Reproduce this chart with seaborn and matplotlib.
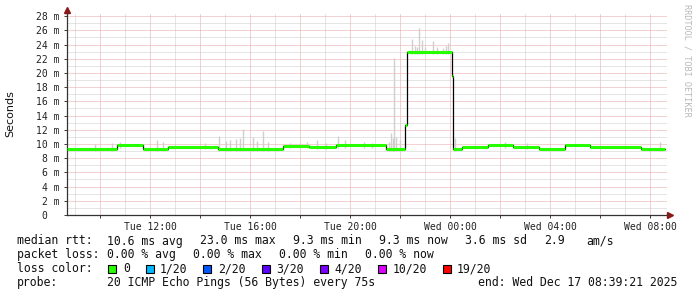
import numpy as np
import pandas as pd
import matplotlib
matplotlib.use("Agg")
import matplotlib.pyplot as plt
import seaborn as sns
from matplotlib.patches import Rectangle
from matplotlib.ticker import FixedLocator, MultipleLocator

# ---------------- data (hours since Tue 00:00, values in ms) ----------------
t_start = 8 + 39 / 60 + 21 / 3600       # Tue 08:39:21
t_end = t_start + 24                     # Wed 08:39:21

seg_start = [8.66, 10.66, 11.70, 12.70, 14.70, 17.30, 18.34, 19.42, 21.42, 22.20,
             22.26, 24.07, 24.12, 24.48, 25.52, 26.50, 27.54, 28.58, 29.58, 31.62]
seg_value = [9.3, 9.8, 9.3, 9.6, 9.3, 9.75, 9.6, 9.8, 9.3, 12.7,
             23.0, 19.6, 9.3, 9.6, 9.8, 9.6, 9.3, 9.8, 9.6, 9.3]
series_end = 32.60

spike_hour = [9.78, 10.46, 10.78, 12.26, 12.50, 14.18, 14.74, 15.02, 15.18, 15.42,
              15.58, 15.70, 16.10, 16.26, 16.50, 16.70, 17.58, 17.98, 18.26, 18.66,
              19.02, 19.50, 19.78, 20.54, 20.86, 21.54, 21.62, 21.70, 21.74, 21.82,
              21.98, 22.46, 22.58, 22.66, 22.74, 22.86, 22.98, 23.30, 23.46, 23.70,
              23.82, 23.90, 24.18, 26.18, 27.06, 32.38]
spike_top = [10.0, 10.1, 10.3, 10.5, 10.3, 10.2, 11.1, 10.4, 10.6, 10.7,
             10.8, 12.1, 11.0, 10.4, 11.8, 10.3, 10.1, 10.2, 10.3, 10.6,
             10.2, 11.1, 10.5, 10.3, 10.1, 10.3, 11.6, 10.9, 22.1, 11.0,
             10.5, 24.8, 23.8, 23.7, 26.3, 24.6, 23.6, 24.5, 23.6, 23.5,
             23.8, 24.2, 10.8, 10.3, 10.1, 10.3]

x_tick_hours = [12, 16, 20, 24, 28, 32]
x_tick_labels = ["Tue 12:00", "Tue 16:00", "Tue 20:00", "Wed 00:00", "Wed 04:00", "Wed 08:00"]
y_ticks = list(range(0, 29, 2))

loss_labels = ["0", "1/20", "2/20", "3/20", "4/20", "10/20", "19/20"]
loss_colors = ["#26ff00", "#00b8ff", "#0059ff", "#5e00ff", "#7e00ff", "#dd00ff", "#ff0000"]

# ---------------- figure ----------------
sns.set_theme(style="white")
plt.rcParams["font.family"] = ["DejaVu Sans Mono", "DejaVu Sans"]

W, H = 697, 297
fig = plt.figure(figsize=(W / 100, H / 100), dpi=100)
fig.patch.set_facecolor("white")
left_px, right_px, top_px, bot_px = 66.5, 666.5, 14, 215
ax = fig.add_axes([left_px / W, 1 - bot_px / H, (right_px - left_px) / W, (bot_px - top_px) / H])
ax.set_facecolor("white")

ax.set_xlim(t_start, t_end)
ax.set_ylim(0, 28.3)

# grid (dotted)
ax.xaxis.set_major_locator(FixedLocator(list(range(10, 33, 2))))
ax.xaxis.set_minor_locator(MultipleLocator(1))
ax.yaxis.set_major_locator(FixedLocator(y_ticks))
ax.yaxis.set_minor_locator(MultipleLocator(1))
ax.grid(which="minor", color="#cccccc", lw=0.72, linestyle=(0, (1, 1)))
ax.grid(which="major", color="#eaa4a4", lw=0.72, linestyle=(0, (1, 1)))
ax.set_axisbelow(True)

# smoke spikes (grey)
seg_start_arr = np.array(seg_start)
idx = np.searchsorted(seg_start_arr, np.array(spike_hour), side="right") - 1
base = np.array(seg_value)[idx] - 0.3
ax.vlines(spike_hour, base, spike_top, colors="#cfcfcf", lw=1.0, zorder=2)

# median line (black step) and loss-coloured median (green)
df = pd.DataFrame({"t": seg_start + [series_end], "rtt": seg_value + [seg_value[-1]]})
sns.lineplot(data=df, x="t", y="rtt", drawstyle="steps-post", color="#000000",
             lw=0.9, ax=ax, estimator=None, sort=False, zorder=3)
seg_end = seg_start[1:] + [series_end]
ax.hlines(seg_value, seg_start, seg_end, colors=loss_colors[0], lw=2.2, zorder=4,
          capstyle="butt")

# ticks
xlabels = []
for h in range(10, 33, 2):
    xlabels.append(x_tick_labels[x_tick_hours.index(h)] if h in x_tick_hours else "")
ax.set_xticklabels(xlabels)
ax.set_yticklabels(["0  " if v == 0 else f"{v} m" for v in y_ticks])
ax.tick_params(axis="both", which="major", labelsize=7, length=2.2, width=0.72,
               color="#404040", labelcolor="#222222", pad=2.5)
ax.tick_params(axis="both", which="minor", length=0)
ax.tick_params(axis="x", bottom=True)
ax.tick_params(axis="y", left=True)
ax.set_xlabel("")
ax.set_ylabel("")

for s in ["top", "right"]:
    ax.spines[s].set_visible(False)
for s in ["left", "bottom"]:
    ax.spines[s].set_color("#333333")
    ax.spines[s].set_linewidth(0.9)

# axis arrows
arrow_c = "#8b1a1a"
ax.plot([1.0, 1.006], [0, 0], color="#333333", lw=0.9, transform=ax.transAxes, clip_on=False)
ax.plot([1.006], [0], marker=">", ms=4, color=arrow_c, transform=ax.transAxes, clip_on=False)
ax.plot([0, 0], [1.0, 1.015], color="#333333", lw=0.9, transform=ax.transAxes, clip_on=False)
ax.plot([0], [1.02], marker="^", ms=4, color=arrow_c, transform=ax.transAxes, clip_on=False)

# y label and watermark
fig.text(10 / W, 1 - 114 / H, "Seconds", rotation=90, ha="center", va="center",
         fontsize=8, family="DejaVu Sans", color="#111111")
fig.text(686.5 / W, 1 - 60 / H, "RRDTOOL / TOBI OETIKER", rotation=270, ha="center",
         va="center", fontsize=6.1, color="#b8b8b8")

# legend / stats text
fs = 8.3
def put(x, y, s):
    fig.text(x / W, 1 - y / H, s, ha="left", va="baseline", fontsize=fs, color="#111111")

y1, y2, y3, y4 = 244.5, 258.0, 272.3, 286.0
put(16.7, y1, "median rtt:")
for x, s in [(107.3, "10.6 ms avg"), (200, "23.0 ms max"), (292.7, "9.3 ms min"),
             (379, "9.3 ms now"), (465, "3.6 ms sd"), (544, "2.9"), (586, "am/s")]:
    put(x, y1, s)
put(16.7, y2, "packet loss:")
for x, s in [(107.3, "0.00 % avg"), (193.3, "0.00 % max"), (279.3, "0.00 % min"),
             (365, "0.00 % now")]:
    put(x, y2, s)
put(16.7, y3, "loss color:")
sq_x = [108.3, 145.7, 203.3, 261.7, 320, 377.7, 442.7]
lab_x = [123, 160, 218.3, 276.7, 334, 392.3, 456.7]
for sx, lx, lab, col in zip(sq_x, lab_x, loss_labels, loss_colors):
    fig.add_artist(Rectangle((sx / W, 1 - 273.3 / H), 8 / W, 8 / H, transform=fig.transFigure,
                             facecolor=col, edgecolor="#000000", lw=0.8))
    put(lx, y3, lab)
put(16.7, y4, "probe:")
put(107.3, y4, "20 ICMP Echo Pings (56 Bytes) every 75s")
put(478.3, y4, "end: Wed Dec 17 08:39:21 2025")

fig.savefig("out.png", dpi=100, facecolor="white")
